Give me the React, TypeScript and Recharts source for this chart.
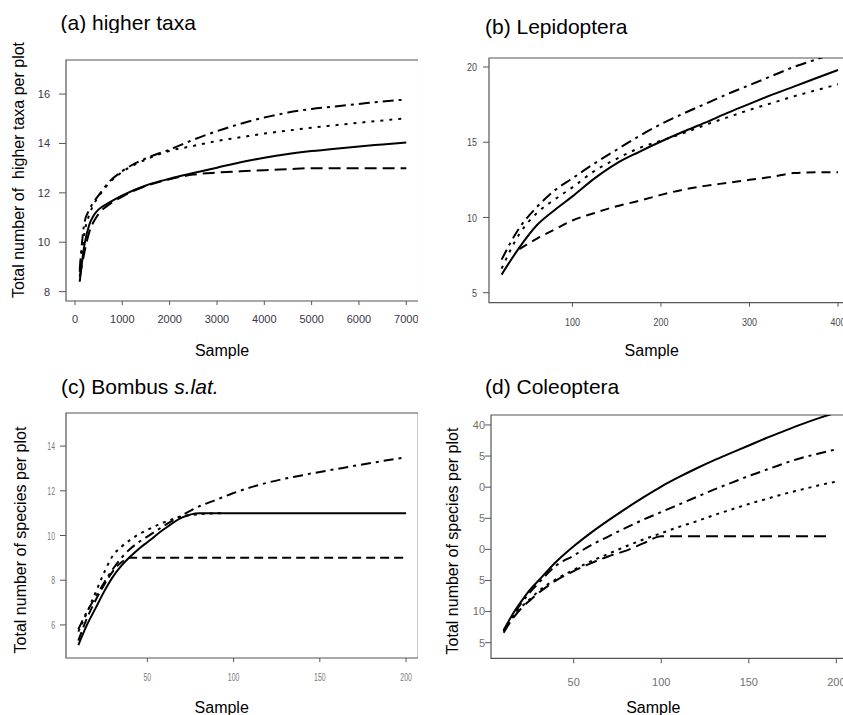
import React from 'react';
import { LineChart, Line, XAxis, YAxis, ReferenceArea } from 'recharts';

const FONT = '"Liberation Sans", Arial, Helvetica, sans-serif';

// ---------- (a) higher taxa ----------
const A_SAMPLES = [100, 200, 300, 400, 500, 700, 1000, 1500, 2000, 2500, 3000, 3500, 4000, 4500, 5000, 5500, 6000, 6500, 7000];
const A_SOLID = [8.4, 9.9, 10.7, 11.1, 11.33, 11.58, 11.9, 12.3, 12.57, 12.8, 13.02, 13.24, 13.42, 13.57, 13.69, 13.79, 13.88, 13.96, 14.04];
const A_DASHED = [8.6, 9.6, 10.4, 10.85, 11.15, 11.5, 11.85, 12.28, 12.55, 12.74, 12.82, 12.87, 12.92, 12.96, 13.0, 13.0, 13.0, 13.0, 13.0];
const A_DOTTED = [8.8, 10.4, 11.1, 11.55, 11.85, 12.35, 12.85, 13.35, 13.7, 13.9, 14.1, 14.25, 14.4, 14.52, 14.64, 14.74, 14.84, 14.93, 15.02];
const A_DOTDASH = [8.9, 10.8, 11.3, 11.65, 11.9, 12.4, 12.88, 13.4, 13.75, 14.15, 14.5, 14.8, 15.05, 15.25, 15.4, 15.5, 15.6, 15.7, 15.78];
const A_XTICKS = [0, 1000, 2000, 3000, 4000, 5000, 6000, 7000];
const A_YTICKS = [8, 10, 12, 14, 16];

// ---------- (b) Lepidoptera ----------
const B_SAMPLES = [20, 40, 60, 80, 100, 125, 150, 175, 200, 225, 250, 275, 300, 325, 350, 375, 400];
const B_SOLID = [6.2, 8.0, 9.5, 10.5, 11.4, 12.6, 13.6, 14.35, 15.05, 15.7, 16.3, 16.95, 17.55, 18.15, 18.7, 19.25, 19.8];
const B_DASHED_SAMPLES = [40, 60, 80, 100, 125, 150, 175, 200, 225, 250, 275, 300, 325, 350, 375, 400];
const B_DASHED = [7.9, 8.6, 9.2, 9.8, 10.3, 10.75, 11.1, 11.5, 11.85, 12.1, 12.3, 12.5, 12.7, 12.95, 13.0, 13.0];
const B_DOTTED = [6.6, 8.9, 10.3, 11.2, 12.0, 13.1, 13.9, 14.6, 15.1, 15.6, 16.15, 16.65, 17.15, 17.6, 18.05, 18.45, 18.85];
const B_DOTDASH = [7.2, 9.3, 10.7, 11.8, 12.6, 13.6, 14.5, 15.4, 16.2, 16.9, 17.55, 18.2, 18.8, 19.4, 20.0, 20.5, 21.0];
const B_XTICKS = [100, 200, 300, 400];
const B_YTICKS = [5, 10, 15, 20];

// ---------- (c) Bombus s.lat. ----------
const C_SAMPLES = [10, 15, 20, 25, 30, 35, 40, 45, 50, 60, 70, 80, 90, 100, 120, 140, 160, 180, 200];
const C_SOLID = [5.1, 6.0, 6.75, 7.5, 8.15, 8.65, 9.05, 9.4, 9.7, 10.3, 10.8, 11.0, 11.0, 11.0, 11.0, 11.0, 11.0, 11.0, 11.0];
const C_DASHED = [5.3, 6.3, 7.1, 7.8, 8.4, 8.8, 9.0, 9.0, 9.0, 9.0, 9.0, 9.0, 9.0, 9.0, 9.0, 9.0, 9.0, 9.0, 9.0];
const C_DOTTED_SAMPLES = [10, 15, 20, 25, 30, 35, 40, 45, 50, 60, 70, 80, 93];
const C_DOTTED = [5.7, 6.55, 7.45, 8.35, 9.1, 9.5, 9.8, 10.05, 10.25, 10.6, 10.85, 10.95, 11.0];
const C_DOTDASH = [5.8, 6.6, 7.25, 7.9, 8.5, 9.0, 9.4, 9.7, 9.95, 10.45, 10.9, 11.3, 11.6, 11.9, 12.37, 12.7, 12.98, 13.25, 13.5];
const C_XTICKS = [50, 100, 150, 200];
const C_YTICKS = [6, 8, 10, 12, 14];

// ---------- (d) Coleoptera ----------
const D_SAMPLES = [10, 15, 20, 25, 30, 40, 50, 60, 70, 80, 90, 100, 110, 120, 130, 140, 150, 160, 170, 180, 190, 200];
const D_SOLID = [7.0, 9.5, 11.6, 13.5, 15.0, 18.0, 20.5, 22.7, 24.7, 26.6, 28.4, 30.1, 31.6, 33.0, 34.3, 35.5, 36.7, 37.9, 39.0, 40.1, 41.1, 42.0];
const D_DOTDASH = [6.9, 9.2, 11.3, 13.1, 14.6, 17.4, 19.0, 20.7, 22.1, 23.5, 24.8, 26.0, 27.2, 28.4, 29.6, 30.7, 31.8, 32.8, 33.8, 34.7, 35.4, 36.1];
const D_DOTTED = [6.8, 9.0, 10.7, 12.0, 13.3, 15.2, 16.7, 18.1, 19.3, 20.5, 21.6, 22.6, 23.6, 24.5, 25.5, 26.4, 27.3, 28.1, 28.9, 29.6, 30.3, 30.9];
const D_DASHED_SAMPLES = [10, 15, 20, 25, 30, 40, 50, 60, 70, 80, 90, 100, 197];
const D_DASHED = [6.6, 8.8, 10.5, 11.8, 13.0, 15.0, 16.5, 17.8, 18.9, 19.8, 21.0, 22.1, 22.1];
const D_XTICKS = [50, 100, 150, 200];
const D_YTICKS = [5, 10, 15, 20, 25, 30, 35, 40];
const D_YLABELS = ['5', '10', '5', '0', '5', '0', '5', '40'];

type LineStyle = 'solid' | 'dashed' | 'dotted' | 'dotdash';

interface SeriesDef {
  key: string;
  style: LineStyle;
  x: number[];
  y: number[];
}

interface TickCfg {
  axis: 'x' | 'y';
  fill: string;
  fontSize: number;
  sx: number;
  values: number[];
  labels?: string[];
}

const toData = (x: number[], y: number[]) => x.map((v, i) => ({ sample: v, value: y[i] }));

const renderTick = (cfg: TickCfg) => (props: any) => {
  const { x, y, payload } = props;
  const idx = cfg.values.indexOf(payload.value);
  const text = cfg.labels && idx >= 0 ? cfg.labels[idx] : String(payload.value);
  const isX = cfg.axis === 'x';
  return (
    <g transform={`translate(${x},${y}) scale(${cfg.sx},1)`}>
      <text
        x={0}
        y={0}
        dy={isX ? '0.71em' : '0.355em'}
        textAnchor={isX ? 'middle' : 'end'}
        fill={cfg.fill}
        fontSize={cfg.fontSize}
        fontFamily={FONT}
      >
        {text}
      </text>
    </g>
  );
};

interface PanelProps {
  box: { x0: number; y0: number; x1: number; y1: number };
  xDomain: [number, number];
  yDomain: [number, number];
  xTicks: number[];
  yTicks: number[];
  tickFill: string;
  tickFont: number;
  tickSx: number;
  yLabels?: string[];
  xTickSize: number;
  xTickMargin: number;
  yTickSize: number;
  yTickMargin: number;
  dashes: Record<LineStyle, string | undefined>;
  series: SeriesDef[];
}

const YW = 62;
const XH = 40;
const MT = 6;

function Panel(p: PanelProps) {
  const left = p.box.x0 - YW;
  const top = p.box.y0 - MT;
  const width = YW + (p.box.x1 - p.box.x0);
  const height = MT + (p.box.y1 - p.box.y0) + XH;
  return (
    <div style={{ position: 'absolute', left, top, width, height }}>
      <LineChart width={width} height={height} margin={{ top: MT, right: 0, bottom: 0, left: 0 }}>
        <XAxis
          type="number"
          dataKey="sample"
          domain={p.xDomain}
          ticks={p.xTicks}
          interval={0}
          allowDataOverflow
          height={XH}
          axisLine={false}
          tickLine={{ stroke: '#555', strokeWidth: 1 }}
          tickSize={p.xTickSize}
          tickMargin={p.xTickMargin}
          tick={renderTick({ axis: 'x', fill: p.tickFill, fontSize: p.tickFont, sx: p.tickSx, values: p.xTicks })}
        />
        <YAxis
          type="number"
          domain={p.yDomain}
          ticks={p.yTicks}
          interval={0}
          allowDataOverflow
          width={YW}
          axisLine={false}
          tickLine={{ stroke: '#555', strokeWidth: 1 }}
          tickSize={p.yTickSize}
          tickMargin={p.yTickMargin}
          tick={renderTick({ axis: 'y', fill: p.tickFill, fontSize: p.tickFont, sx: p.tickSx, values: p.yTicks, labels: p.yLabels })}
        />
        <ReferenceArea
          x1={p.xDomain[0]}
          x2={p.xDomain[1]}
          y1={p.yDomain[0]}
          y2={p.yDomain[1]}
          fill="none"
          fillOpacity={0}
          stroke="#555"
          strokeWidth={1.2}
          ifOverflow="visible"
        />
        {p.series.map((s) => (
          <Line
            key={s.key}
            data={toData(s.x, s.y)}
            dataKey="value"
            type="monotone"
            stroke="#000"
            strokeWidth={2}
            strokeDasharray={p.dashes[s.style]}
            dot={false}
            activeDot={false}
            isAnimationActive={false}
          />
        ))}
      </LineChart>
    </div>
  );
}

const titleStyle: React.CSSProperties = {
  position: 'absolute',
  fontFamily: FONT,
  fontSize: 21,
  lineHeight: '21px',
  color: '#000',
  whiteSpace: 'nowrap',
};

const axisLabelStyle: React.CSSProperties = {
  position: 'absolute',
  fontFamily: FONT,
  fontSize: 16,
  lineHeight: '16px',
  color: '#000',
  whiteSpace: 'pre',
};

function YLabel({ cx, cy, text }: { cx: number; cy: number; text: string }) {
  return (
    <div style={{ ...axisLabelStyle, left: cx, top: cy, transform: 'translate(-50%, -50%) rotate(-90deg)' }}>
      {text}
    </div>
  );
}

function XLabel({ cx, top, text }: { cx: number; top: number; text: string }) {
  return <div style={{ ...axisLabelStyle, left: cx, top, transform: 'translateX(-50%)' }}>{text}</div>;
}

export default function App() {
  return (
    <div
      style={{
        position: 'absolute',
        left: 0,
        top: 0,
        width: 843,
        height: 715,
        overflow: 'hidden',
        background: '#fff',
        fontFamily: FONT,
      }}
    >
      {/* Titles */}
      <div style={{ position: 'absolute', left: 0, top: 0, width: 420, height: 33, overflow: 'hidden' }}>
        <div style={{ ...titleStyle, left: 60.5, top: 12 }}>(a) higher taxa</div>
      </div>
      <div style={{ ...titleStyle, left: 485, top: 15.5 }}>(b) Lepidoptera</div>
      <div style={{ ...titleStyle, left: 61, top: 375.5 }}>
        (c) Bombus <i>s.lat.</i>
      </div>
      <div style={{ ...titleStyle, left: 485, top: 375.5 }}>(d) Coleoptera</div>

      {/* Panel (a) */}
      <Panel
        box={{ x0: 65.7, y0: 60, x1: 418.3, y1: 301 }}
        xDomain={[-190, 7260]}
        yDomain={[7.62, 17.38]}
        xTicks={A_XTICKS}
        yTicks={A_YTICKS}
        tickFill="#3d3448"
        tickFont={11}
        tickSx={1}
        xTickSize={4}
        xTickMargin={10}
        yTickSize={7}
        yTickMargin={9}
        dashes={{ solid: undefined, dashed: '12 6', dotted: '3 6', dotdash: '11 5 3 5' }}
        series={[
          { key: 'dashed', style: 'dashed', x: A_SAMPLES, y: A_DASHED },
          { key: 'dotted', style: 'dotted', x: A_SAMPLES, y: A_DOTTED },
          { key: 'dotdash', style: 'dotdash', x: A_SAMPLES, y: A_DOTDASH },
          { key: 'solid', style: 'solid', x: A_SAMPLES, y: A_SOLID },
        ]}
      />

      {/* Panel (b) */}
      <Panel
        box={{ x0: 489.3, y0: 58, x1: 850, y1: 302.7 }}
        xDomain={[5.76, 413.2]}
        yDomain={[4.335, 20.6]}
        xTicks={B_XTICKS}
        yTicks={B_YTICKS}
        tickFill="#4a4a4a"
        tickFont={11.5}
        tickSx={0.78}
        xTickSize={4}
        xTickMargin={11}
        yTickSize={6}
        yTickMargin={6}
        dashes={{ solid: undefined, dashed: '9 6', dotted: '3 6', dotdash: '11 5 3 5' }}
        series={[
          { key: 'dashed', style: 'dashed', x: B_DASHED_SAMPLES, y: B_DASHED },
          { key: 'dotted', style: 'dotted', x: B_SAMPLES, y: B_DOTTED },
          { key: 'dotdash', style: 'dotdash', x: B_SAMPLES, y: B_DOTDASH },
          { key: 'solid', style: 'solid', x: B_SAMPLES, y: B_SOLID },
        ]}
      />

      {/* Panel (c) */}
      <Panel
        box={{ x0: 65.7, y0: 413.3, x1: 418, y1: 658.3 }}
        xDomain={[2.84, 207.1]}
        yDomain={[4.52, 15.48]}
        xTicks={C_XTICKS}
        yTicks={C_YTICKS}
        tickFill="#7a7a7a"
        tickFont={11.5}
        tickSx={0.6}
        xTickSize={4}
        xTickMargin={11}
        yTickSize={6}
        yTickMargin={5}
        dashes={{ solid: undefined, dashed: '9 5', dotted: '3 5', dotdash: '10 5 3 5' }}
        series={[
          { key: 'dashed', style: 'dashed', x: C_SAMPLES, y: C_DASHED },
          { key: 'dotted', style: 'dotted', x: C_DOTTED_SAMPLES, y: C_DOTTED },
          { key: 'dotdash', style: 'dotdash', x: C_SAMPLES, y: C_DOTDASH },
          { key: 'solid', style: 'solid', x: C_SAMPLES, y: C_SOLID },
        ]}
      />

      {/* Panel (d) */}
      <Panel
        box={{ x0: 491.3, y0: 415, x1: 850, y1: 658.3 }}
        xDomain={[2.8, 207.6]}
        yDomain={[2.49, 41.6]}
        xTicks={D_XTICKS}
        yTicks={D_YTICKS}
        yLabels={D_YLABELS}
        tickFill="#6f6f6f"
        tickFont={11}
        tickSx={1}
        xTickSize={5}
        xTickMargin={15}
        yTickSize={6}
        yTickMargin={0}
        dashes={{ solid: undefined, dashed: '12 6', dotted: '3 5', dotdash: '10 5 3 5' }}
        series={[
          { key: 'dashed', style: 'dashed', x: D_DASHED_SAMPLES, y: D_DASHED },
          { key: 'dotted', style: 'dotted', x: D_SAMPLES, y: D_DOTTED },
          { key: 'dotdash', style: 'dotdash', x: D_SAMPLES, y: D_DOTDASH },
          { key: 'solid', style: 'solid', x: D_SAMPLES, y: D_SOLID },
        ]}
      />

      {/* Axis labels */}
      <YLabel cx={19} cy={170} text="Total number of  higher taxa per plot" />
      <YLabel cx={21} cy={539.5} text="Total number of species per plot" />
      <YLabel cx={452.7} cy={541} text="Total number of species per plot" />
      <XLabel cx={222} top={343} text="Sample" />
      <XLabel cx={651.7} top={343} text="Sample" />
      <XLabel cx={221.7} top={699.8} text="Sample" />
      <XLabel cx={653.3} top={699.8} text="Sample" />
    </div>
  );
}
